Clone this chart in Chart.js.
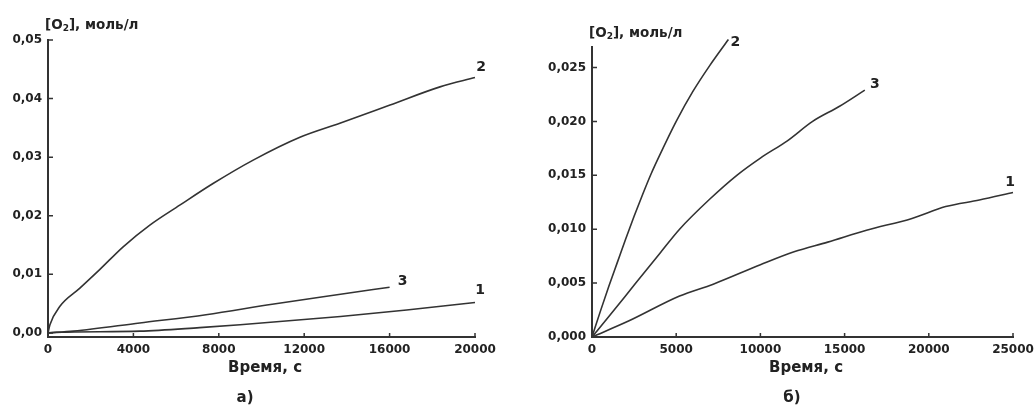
<!DOCTYPE html>
<html>
<head>
<meta charset="utf-8">
<script src="https://cdn.jsdelivr.net/npm/chart.js@4/dist/chart.umd.min.js"></script>
<style>
  body { margin: 0; background: #fff; width: 1035px; height: 406px; position: relative; overflow: hidden;
         font-family: "DejaVu Sans", sans-serif; font-weight: bold; color: #222; }
  canvas { position: absolute; top: 0; }
  .lbl { position: absolute; white-space: nowrap; transform: translate(-50%, -50%); font-size: 15px; }
  .ytitle { position: absolute; white-space: nowrap; font-size: 13.5px; }
  .ytitle sub { font-size: 9px; vertical-align: -2px; }
</style>
</head>
<body>
<canvas id="chartA" width="520" height="406" style="left:0"></canvas>
<canvas id="chartB" width="515" height="406" style="left:520px"></canvas>

<div class="ytitle" style="left:45px; top:16px">[O<sub>2</sub>], моль/л</div>
<div class="ytitle" style="left:589px; top:24px">[O<sub>2</sub>], моль/л</div>
<div class="lbl" style="left:265px; top:367px">Время, с</div>
<div class="lbl" style="left:806px; top:367px">Время, с</div>
<div class="lbl" style="left:245px; top:397px">а)</div>
<div class="lbl" style="left:792px; top:397px">б)</div>

<script>
// ---- график а) ----
const xTicksA = [0, 4000, 8000, 12000, 16000, 20000];
const yTicksA = [0, 0.01, 0.02, 0.03, 0.04, 0.05];

const a1T = [0, 400, 4300, 7100, 9000, 13700, 16800, 20000];
const a1C = [0, 0.0001, 0.0003, 0.0009, 0.0014, 0.0028, 0.0039, 0.0052];

const a2T = [0, 90, 550, 1480, 2420, 3520, 4770, 6170, 7730, 9610, 11800, 13670, 16020, 18360, 20000];
const a2C = [0, 0.0014, 0.0045, 0.0076, 0.0108, 0.0147, 0.0184, 0.0218, 0.0255, 0.0295, 0.0334, 0.0358, 0.0389, 0.042, 0.0436];

const a3T = [0, 1200, 4300, 7400, 10500, 13700, 16000];
const a3C = [0, 0.0003, 0.0017, 0.0031, 0.0049, 0.0066, 0.0078];

// ---- график б) ----
const xTicksB = [0, 5000, 10000, 15000, 20000, 25000];
const yTicksB = [0, 0.005, 0.01, 0.015, 0.02, 0.025];

const b1T = [0, 2200, 5200, 7200, 10000, 12000, 14000, 16300, 19000, 21000, 23000, 25000];
const b1C = [0, 0.0015, 0.0038, 0.0049, 0.0067, 0.0079, 0.0088, 0.0099, 0.011, 0.0121, 0.0127, 0.0134];

const b2T = [0, 500, 1000, 1500, 2000, 2500, 3000, 3500, 4000, 5000, 6000, 7000, 8100];
const b2C = [0, 0.0024, 0.0047, 0.0069, 0.0091, 0.0112, 0.0132, 0.0151, 0.0168, 0.02, 0.0228, 0.0252, 0.0276];

const b3T = [0, 1000, 2600, 4000, 5200, 7000, 8600, 10000, 11600, 13100, 14700, 16200];
const b3C = [0, 0.0019, 0.005, 0.0077, 0.01, 0.0128, 0.015, 0.0166, 0.0182, 0.02, 0.0214, 0.0229];

Chart.defaults.font.family = '"DejaVu Sans", sans-serif';
Chart.defaults.font.size = 12;
Chart.defaults.font.weight = 'bold';
Chart.defaults.color = '#222';

const INK = '#333';

// номера кривых у концов линий + короткие засечки внутрь
const marks = {
  id: 'marks',
  afterDraw(chart, args, opts) {
    const { ctx, chartArea: a, scales: { x, y } } = chart;
    ctx.save();
    ctx.strokeStyle = INK;
    ctx.lineWidth = 1.5;
    ctx.beginPath();
    x.ticks.forEach(t => {
      const px = x.getPixelForValue(t.value);
      ctx.moveTo(px, a.bottom + 1);
      ctx.lineTo(px, a.bottom - 4);
    });
    y.ticks.forEach(t => {
      const py = y.getPixelForValue(t.value);
      ctx.moveTo(a.left - 1, py);
      ctx.lineTo(a.left + 5, py);
    });
    ctx.stroke();

    ctx.fillStyle = '#222';
    ctx.font = 'bold 14px "DejaVu Sans"';
    ctx.textAlign = 'center';
    ctx.textBaseline = 'middle';
    chart.data.datasets.forEach((ds, i) => {
      const last = ds.data[ds.data.length - 1];
      const off = opts.offsets[i];
      ctx.fillText(ds.label, x.getPixelForValue(last.x) + off[0], y.getPixelForValue(last.y) + off[1]);
    });
    ctx.restore();
  }
};

function series(label, t, c) {
  return {
    label: label,
    data: t.map((v, i) => ({ x: v, y: c[i] })),
    borderColor: INK,
    borderWidth: 1.6,
    pointRadius: 0,
    cubicInterpolationMode: 'monotone',
    clip: false
  };
}

function makeChart(id, datasets, cfg) {
  return new Chart(document.getElementById(id), {
    type: 'line',
    data: { datasets: datasets },
    options: {
      responsive: false,
      animation: false,
      layout: { padding: cfg.padding },
      plugins: {
        legend: { display: false },
        tooltip: { enabled: false },
        marks: { offsets: cfg.offsets }
      },
      scales: {
        x: {
          type: 'linear',
          min: cfg.xMin, max: cfg.xMax,
          grid: { display: false, drawTicks: false },
          border: { display: true, color: INK, width: 2 },
          afterBuildTicks: s => { s.ticks = cfg.xTicks.map(v => ({ value: v })); },
          afterFit: s => { s.height = 69; s.paddingLeft = 0; s.paddingRight = 0; },
          ticks: { padding: 6, maxRotation: 0, callback: v => String(v) }
        },
        y: {
          type: 'linear',
          min: cfg.yMin, max: cfg.yMax,
          grid: { display: false, drawTicks: false },
          border: { display: true, color: INK, width: 2 },
          afterBuildTicks: s => { s.ticks = cfg.yTicks.map(v => ({ value: v })); },
          afterFit: s => { s.width = cfg.yWidth; s.paddingTop = 0; s.paddingBottom = 0; },
          ticks: { padding: 6, callback: v => v.toFixed(cfg.digits).replace('.', ',') }
        }
      }
    },
    plugins: [marks]
  });
}

makeChart('chartA',
  [series('1', a1T, a1C), series('2', a2T, a2C), series('3', a3T, a3C)],
  {
    padding: { left: 0, top: 40, right: 45, bottom: 0 },
    xMin: 0, xMax: 20000, yMin: -0.0007, yMax: 0.05,
    xTicks: xTicksA, yTicks: yTicksA, yWidth: 48, digits: 2,
    offsets: [[5, -12], [6, -10], [13, -6]]
  });

makeChart('chartB',
  [series('1', b1T, b1C), series('2', b2T, b2C), series('3', b3T, b3C)],
  {
    padding: { left: 0, top: 47, right: 22, bottom: 0 },
    xMin: 0, xMax: 25000, yMin: 0, yMax: 0.0269,
    xTicks: xTicksB, yTicks: yTicksB, yWidth: 72, digits: 3,
    offsets: [[-3, -10], [7, 3], [10, -6]]
  });
</script>
</body>
</html>
